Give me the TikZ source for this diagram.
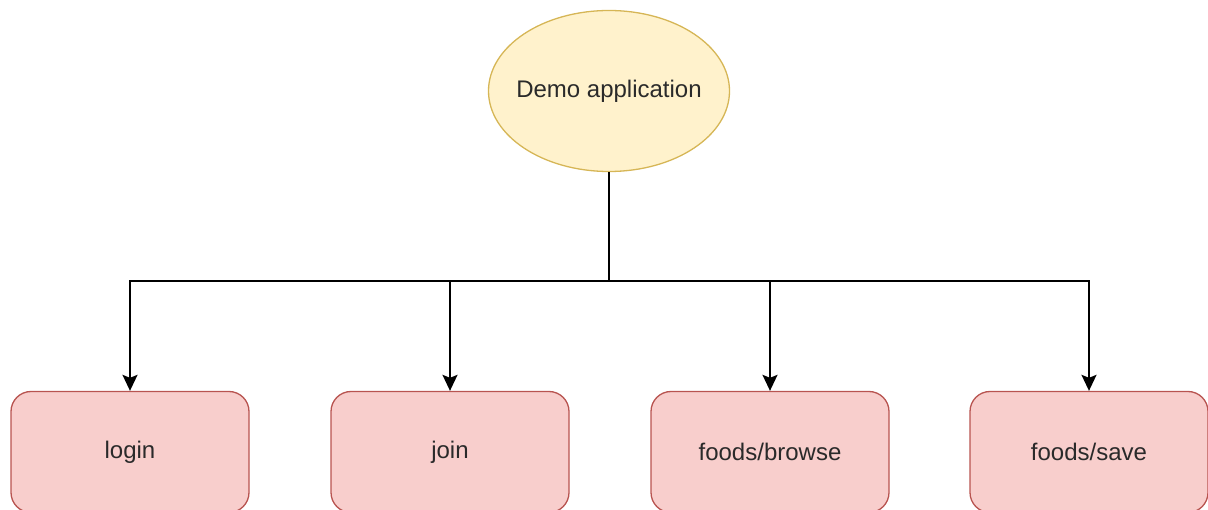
\documentclass[tikz,border=0pt]{standalone}
\usepackage{fontspec}
\setmainfont{Liberation Sans}
\usetikzlibrary{arrows.meta,shapes.geometric}
\definecolor{ellfill}{HTML}{FFF2CC}
\definecolor{elldraw}{HTML}{D6B656}
\definecolor{boxfill}{HTML}{F8CECC}
\definecolor{boxdraw}{HTML}{B85450}
\definecolor{txt}{HTML}{2A2A2A}
\tikzset{
  appnode/.style={ellipse, draw=elldraw, fill=ellfill, line width=1.3pt,
    minimum width=241pt, minimum height=161pt, inner xsep=-12pt, inner ysep=0pt,
    font=\fontsize{24}{28}\selectfont, text=txt},
  routebox/.style={rectangle, rounded corners=20pt, draw=boxdraw, fill=boxfill,
    line width=1.3pt, minimum width=238pt, minimum height=121pt, inner sep=0pt,
    font=\fontsize{24}{28}\selectfont, text=txt},
  link/.style={line width=2pt, black},
  arrowlink/.style={link, -{Stealth[length=16pt,width=15pt,inset=3pt]}},
}
\begin{document}
\begin{tikzpicture}[x=1pt,y=-1pt]
\useasboundingbox (0,0) rectangle (1208,510);
\node[appnode] (app) at (609,91) {Demo application};
\node[routebox] (login) at (130,452) {login};
\node[routebox] (join) at (450,452) {join};
\node[routebox] (browse) at (770,452) {foods/browse};
\node[routebox] (save) at (1089,452) {foods/save};
\coordinate (bus) at (609,281);
\draw[link] (app.south) -- (bus);
\draw[arrowlink] (bus) -| (login.north);
\draw[arrowlink] (bus) -| (join.north);
\draw[arrowlink] (bus) -| (browse.north);
\draw[arrowlink] (bus) -| (save.north);
\end{tikzpicture}
\end{document}
